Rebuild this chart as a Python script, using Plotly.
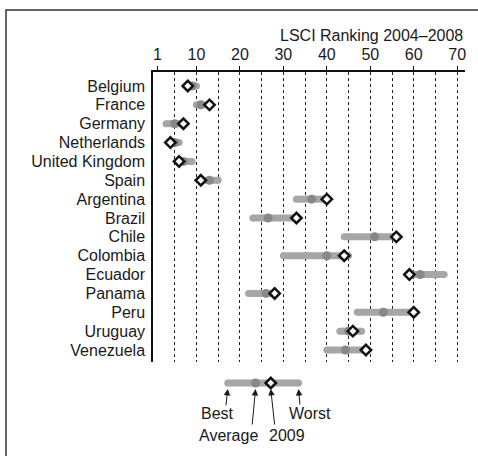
import plotly.graph_objects as go

countries = ["Belgium", "France", "Germany", "Netherlands", "United Kingdom", "Spain",
             "Argentina", "Brazil", "Chile", "Colombia", "Ecuador", "Panama", "Peru",
             "Uruguay", "Venezuela"]
best = [8, 10, 3, 4, 6, 11, 33, 23, 44, 30, 59, 22, 47, 43, 40]
average = [9, 11, 5, 5, 7, 13, 36.5, 26.5, 51, 40, 61.5, 26, 53, 45, 44.3]
worst = [10, 13, 7, 6, 9, 15, 40, 33, 56, 45, 67, 28, 60, 48, 49]
rank_2009 = [8, 13, 7, 4, 6, 11, 40, 33, 56, 44, 59, 28, 60, 46, 49]

x_tick_vals = [1, 10, 20, 30, 40, 50, 60, 70]
grid_vals = [5, 10, 15, 20, 25, 30, 35, 40, 45, 50, 55, 60, 65, 70]

# key example
key_best, key_avg, key_2009, key_worst = 17.2, 23.6, 27.1, 33.5

FONT = "Liberation Sans, Arial, sans-serif"
FS = 16
TXT = "#1a1a1a"
BAR = "#a6a6a6"
AVG = "#888888"

rows = list(range(len(countries)))

fig = go.Figure()

# range bars
bx, by = [], []
for i in rows:
    bx += [best[i], worst[i], None]
    by += [i, i, None]
fig.add_trace(go.Scatter(x=bx, y=by, mode="lines+markers",
                         line=dict(color=BAR, width=7),
                         marker=dict(color=BAR, size=7, line=dict(width=0)),
                         hoverinfo="skip", showlegend=False))
fig.add_trace(go.Scatter(x=average, y=rows, mode="markers",
                         marker=dict(color=AVG, size=9, line=dict(width=0)),
                         showlegend=False))
fig.add_trace(go.Scatter(x=rank_2009, y=rows, mode="markers",
                         marker=dict(symbol="diamond", color="white", size=8,
                                     line=dict(color="#111111", width=2.5)),
                         showlegend=False))

# key (own axes)
KEY_Y = 73
fig.add_trace(go.Scatter(x=[key_best, key_worst], y=[KEY_Y, KEY_Y], mode="lines+markers",
                         line=dict(color=BAR, width=7),
                         marker=dict(color=BAR, size=7, line=dict(width=0)),
                         xaxis="x2", yaxis="y2", showlegend=False))
fig.add_trace(go.Scatter(x=[key_avg], y=[KEY_Y], mode="markers",
                         marker=dict(color=AVG, size=9, line=dict(width=0)),
                         xaxis="x2", yaxis="y2", showlegend=False))
fig.add_trace(go.Scatter(x=[key_2009], y=[KEY_Y], mode="markers",
                         marker=dict(symbol="diamond", color="white", size=8,
                                     line=dict(color="#111111", width=2.5)),
                         xaxis="x2", yaxis="y2", showlegend=False))

anns = []
# arrows: (tip x in data, tail offset px)
arrow_specs = [
    (key_best, -2, 18),
    (key_avg, -3.5, 37),
    (key_2009, 4, 37),
    (key_worst, 1.5, 17),
]
for xv, ax, ay in arrow_specs:
    anns.append(dict(x=xv, y=KEY_Y - 6, xref="x2", yref="y2", text="",
                     showarrow=True, arrowhead=2, arrowsize=1.3, arrowwidth=1,
                     arrowcolor=TXT, ax=ax, ay=ay))
label_specs = [
    ("Best", 14.8, 43),
    ("Worst", 36.1, 43),
    ("Average", 17.4, 21),
    ("2009", 30.9, 21),
]
for t, xv, yv in label_specs:
    anns.append(dict(x=xv, y=yv, xref="x2", yref="y2", text=t, showarrow=False,
                     font=dict(family=FONT, size=FS, color=TXT),
                     xanchor="center", yanchor="middle"))
anns.append(dict(x=1, y=1, xref="paper", yref="paper", yshift=37,
                 text="LSCI Ranking 2004\u20132008", showarrow=False,
                 xanchor="right", yanchor="middle",
                 font=dict(family=FONT, size=FS, color=TXT)))

DOM = 94 / 384

fig.update_layout(
    width=478, height=456,
    margin=dict(l=153, r=13, t=72, b=0),
    paper_bgcolor="white", plot_bgcolor="white",
    font=dict(family=FONT, size=FS, color=TXT),
    xaxis=dict(range=[0, 71.8], side="top", tickvals=x_tick_vals,
               ticks="outside", ticklen=4, tickcolor="#111111", tickwidth=1,
               showline=True, linecolor="#111111", linewidth=1.5,
               showgrid=False, zeroline=False,
               minor=dict(tickvals=grid_vals, showgrid=True, gridcolor="#222222",
                          griddash="3px,3px", gridwidth=1, ticks=""),
               tickfont=dict(family=FONT, size=FS, color=TXT), anchor="y"),
    yaxis=dict(domain=[DOM, 1], range=[14.636, -0.742], tickvals=rows,
               ticktext=countries, ticks="", showline=True, linecolor="#111111",
               linewidth=1.5, showgrid=False, zeroline=False, ticklabelstandoff=3,
               tickfont=dict(family=FONT, size=FS, color=TXT), anchor="x"),
    xaxis2=dict(range=[0, 71.8], visible=False, anchor="y2", matches="x"),
    yaxis2=dict(domain=[0, DOM], range=[0, 94], visible=False, anchor="x2"),
    annotations=anns,
    shapes=[dict(type="rect", xref="paper", yref="paper",
                 x0=(6 - 153) / 312, x1=1.2, y0=-0.2, y1=1 + 62 / 384,
                 line=dict(color="#333333", width=1.5))],
    showlegend=False,
)

fig.write_html("out.html", config={"displayModeBar": False},
               post_script="document.body.style.margin='0';document.body.style.padding='0';document.body.style.overflow='hidden';")
